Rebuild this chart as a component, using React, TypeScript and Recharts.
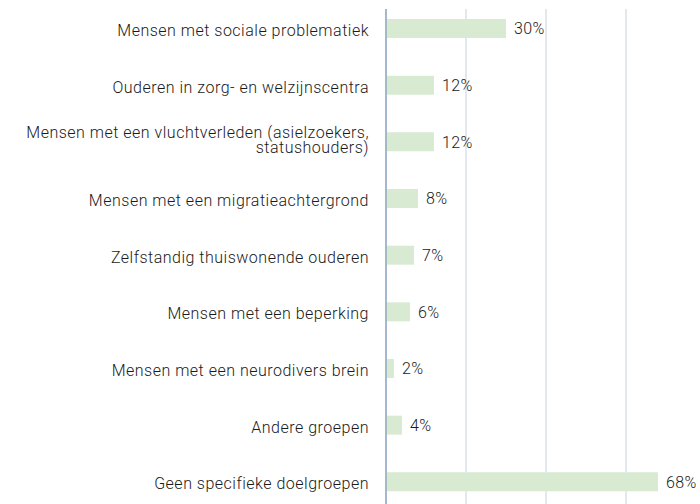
import { BarChart, Bar, XAxis, YAxis, CartesianGrid, LabelList } from "recharts";

const groups = [
  "Mensen met sociale problematiek",
  "Ouderen in zorg- en welzijnscentra",
  "Mensen met een vluchtverleden (asielzoekers, statushouders)",
  "Mensen met een migratieachtergrond",
  "Zelfstandig thuiswonende ouderen",
  "Mensen met een beperking",
  "Mensen met een neurodivers brein",
  "Andere groepen",
  "Geen specifieke doelgroepen",
];
const shares = [30, 12, 12, 8, 7, 6, 2, 4, 68];
const xTicks = [0, 20, 40, 60, 80];

const data = groups.map((name, i) => ({ name, value: shares[i] }));

const FONT = "Roboto, sans-serif";

// wrap on words, at most 44 characters per line
function wrap(label: string, max = 44) {
  const lines: string[] = [];
  let cur = "";
  for (const w of label.split(" ")) {
    const next = cur ? cur + " " + w : w;
    if (next.length > max && cur) {
      lines.push(cur);
      cur = w;
    } else {
      cur = next;
    }
  }
  if (cur) lines.push(cur);
  return lines;
}

function GroupTick(props: any) {
  const { x, y, payload } = props;
  const lines = wrap(String(payload.value));
  const first = y + 7.5 - (lines.length - 1) * 11.5;
  return (
    <text
      x={x}
      y={first}
      textAnchor="end"
      fontSize={16}
      fontFamily={FONT}
      fontWeight={300}
      letterSpacing={0.5}
      fill="#1a1a1a"
    >
      {lines.map((l, i) => (
        <tspan key={i} x={x} dy={i === 0 ? 0 : 15}>
          {l}
        </tspan>
      ))}
    </text>
  );
}

export default function App() {
  return (
    <div style={{ position: "absolute", left: 0, top: 0, width: 700, height: 504, overflow: "hidden", background: "#fff" }}>
      <BarChart
        width={720}
        height={530}
        data={data}
        layout="vertical"
        margin={{ top: 9, right: 14, bottom: 20, left: 0 }}
      >
        <CartesianGrid horizontal={false} stroke="#c3d2df" />
        <XAxis type="number" domain={[0, 80]} ticks={xTicks} hide />
        <YAxis
          type="category"
          dataKey="name"
          width={386}
          padding={{ top: -9, bottom: 0 }}
          axisLine={{ stroke: "#8ea9c0", strokeWidth: 1.5 }}
          tickLine={false}
          tickSize={6}
          tickMargin={11}
          interval={0}
          tick={<GroupTick />}
        />
        <Bar dataKey="value" fill="#d9ead3" barSize={19} isAnimationActive={false}>
          <LabelList
            dataKey="value"
            position="right"
            offset={8}
            formatter={(v: any) => `${v}%`}
            style={{ fontSize: 16, fontFamily: FONT, fontWeight: 300, letterSpacing: 0.4, fill: "#1a1a1a" }}
          />
        </Bar>
      </BarChart>
    </div>
  );
}
